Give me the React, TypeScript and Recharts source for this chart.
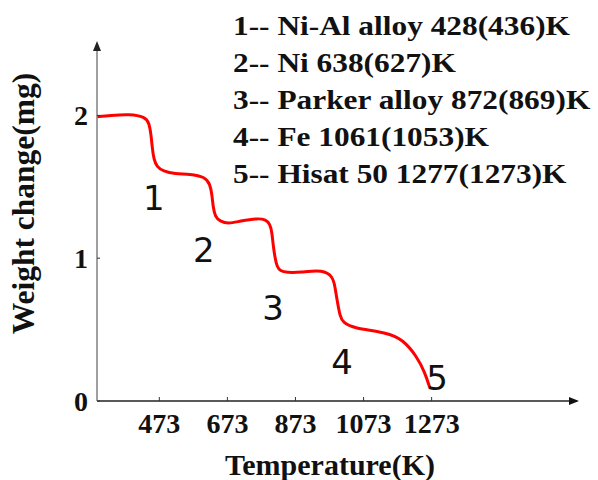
import { LineChart, Line, XAxis, YAxis, ReferenceDot } from 'recharts'

// weight-loss curve
const tempK = [
  290, 328, 387, 431, 443, 449, 452, 457, 466, 484, 519, 563, 607, 622, 628, 631, 637, 651, 675,
  710, 763, 786, 798, 804, 807, 813, 819, 828, 848, 886, 954, 983, 989, 995, 1004, 1013, 1042,
  1142, 1189, 1230, 1253, 1268,
]
const weightMg = [
  1.99, 2.0, 2.01, 1.99, 1.95, 1.86, 1.78, 1.69, 1.64, 1.61, 1.59, 1.59, 1.57, 1.52, 1.44, 1.36,
  1.29, 1.26, 1.24, 1.26, 1.28, 1.27, 1.24, 1.18, 1.1, 1.0, 0.94, 0.91, 0.9, 0.9, 0.92, 0.87, 0.8,
  0.71, 0.59, 0.55, 0.51, 0.48, 0.43, 0.31, 0.2, 0.09,
]

const tempTicks = [473, 673, 873, 1073, 1273]
const weightTicks = [0, 1, 2]

// numbered step markers
const stepIds = ['1', '2', '3', '4', '5']
const stepTempK = [457, 604, 807, 1010, 1289]
const stepWeight = [1.42, 1.06, 0.65, 0.27, 0.16]

const legendLines = [
  '1-- Ni-Al alloy 428(436)K',
  '2-- Ni 638(627)K',
  '3-- Parker alloy 872(869)K',
  '4-- Fe 1061(1053)K',
  '5-- Hisat 50 1277(1273)K',
]

const curve = tempK.map((t, i) => ({ t, w: weightMg[i] }))

const serif = '"Liberation Serif", "Times New Roman", serif'
const tickStyle = { fontFamily: serif, fontWeight: 700, fontSize: 28, fill: '#111' }

const XTitle = ({ viewBox }: any) => (
  <text
    x={viewBox.x + viewBox.width / 2 - 7}
    y={viewBox.y + viewBox.height - 5}
    textAnchor="middle"
    fontFamily={serif}
    fontWeight={700}
    fontSize={30}
    fill="#111"
  >
    Temperature(K)
  </text>
)

const YTitle = ({ viewBox }: any) => {
  const x = viewBox.x + 23
  const y = viewBox.y + viewBox.height / 2 - 19
  return (
    <text
      x={x}
      y={y}
      transform={`rotate(-90, ${x}, ${y})`}
      textAnchor="middle"
      dominantBaseline="central"
      fontFamily={serif}
      fontWeight={700}
      fontSize={31.5}
      fill="#111"
    >
      Weight change(mg)
    </text>
  )
}

export default function App() {
  return (
    <div style={{ position: 'absolute', left: 0, top: 0, width: 598, height: 480, background: '#fff' }}>
      <LineChart width={598} height={480} data={curve} margin={{ top: 44, right: 21, bottom: 0, left: 0 }}>
        <XAxis
          type="number"
          dataKey="t"
          domain={[290, 1700]}
          ticks={tempTicks}
          interval={0}
          height={79}
          tickSize={-4}
          tickMargin={16}
          tick={tickStyle}
          axisLine={{ stroke: '#222', strokeWidth: 1.5 }}
          tickLine={{ stroke: '#333' }}
          label={{ content: XTitle }}
        />
        <YAxis
          type="number"
          domain={[0, 2.5]}
          ticks={weightTicks}
          width={97}
          tickSize={-3}
          tickMargin={12}
          tick={tickStyle}
          axisLine={{ stroke: '#808080', strokeWidth: 1.5 }}
          tickLine={{ stroke: '#333' }}
          label={{ content: YTitle }}
        />
        <Line
          type="basis"
          dataKey="w"
          stroke="#ff0000"
          strokeWidth={3}
          dot={false}
          isAnimationActive={false}
        />
        {stepIds.map((id, i) => (
          <ReferenceDot
            key={id}
            x={stepTempK[i]}
            y={stepWeight[i]}
            ifOverflow="visible"
            shape={(p: any) => (
              <text
                x={p.cx}
                y={p.cy}
                textAnchor="middle"
                dominantBaseline="central"
                fontFamily='"DejaVu Sans", sans-serif'
                fontSize={34}
                fill="#111"
              >
                {id}
              </text>
            )}
          />
        ))}
        {/* axis arrowheads */}
        <ReferenceDot
          x={1700}
          y={0}
          ifOverflow="visible"
          shape={(p: any) => (
            <polygon points={`${p.cx + 2},${p.cy} ${p.cx - 8},${p.cy - 4} ${p.cx - 8},${p.cy + 4}`} fill="#111" />
          )}
        />
        <ReferenceDot
          x={290}
          y={2.5}
          ifOverflow="visible"
          shape={(p: any) => (
            <polygon points={`${p.cx},${p.cy - 3} ${p.cx - 4},${p.cy + 7} ${p.cx + 4},${p.cy + 7}`} fill="#222" />
          )}
        />
      </LineChart>
      <svg
        width={598}
        height={480}
        style={{ position: 'absolute', left: 0, top: 0, pointerEvents: 'none' }}
      >
        <g transform="translate(233,0) scale(1.12,1)">
          {legendLines.map((line, i) => (
            <text
              key={line}
              x={0}
              y={35 + i * 37}
              fontFamily={serif}
              fontWeight={700}
              fontSize={28}
              fill="#111"
            >
              {line}
            </text>
          ))}
        </g>
      </svg>
    </div>
  )
}
